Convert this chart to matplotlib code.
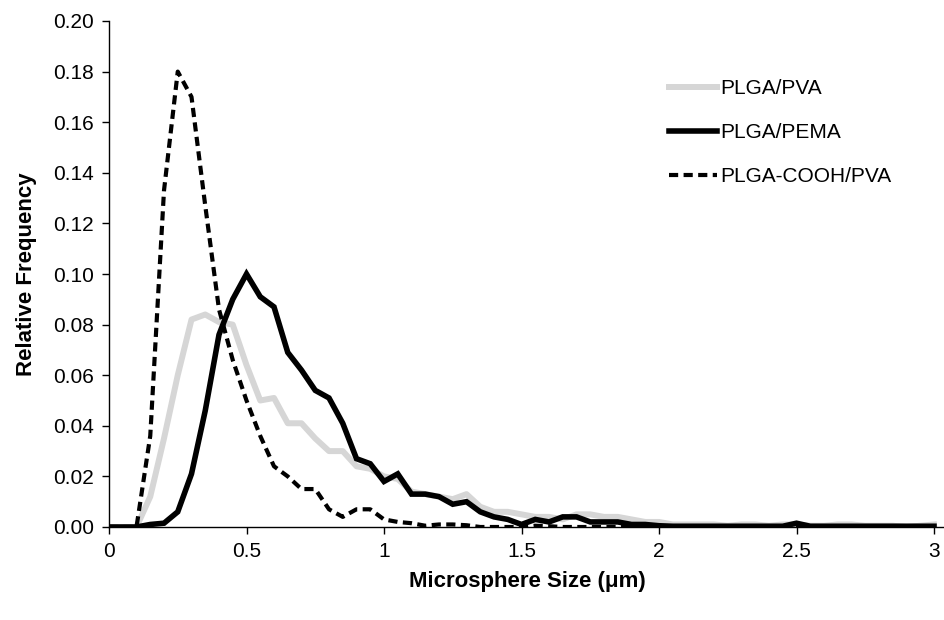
import numpy as np
import matplotlib
matplotlib.use("Agg")
import matplotlib.pyplot as plt
import matplotlib.ticker as mtick

# microsphere size bins (um)
sizes = np.linspace(0, 3, 61)

plga_pva = [0, 0, 0, 0.012, 0.035, 0.060, 0.082, 0.084, 0.081, 0.080,
            0.064, 0.050, 0.051, 0.041, 0.041, 0.035, 0.030, 0.030, 0.024, 0.023,
            0.020, 0.019, 0.014, 0.013, 0.012, 0.011, 0.013, 0.008, 0.006, 0.006,
            0.005, 0.004, 0.004, 0.003, 0.005, 0.005, 0.004, 0.004, 0.003, 0.002,
            0.002, 0.001, 0.001, 0.001, 0.001, 0.0005, 0.001, 0.001, 0.0005, 0.001,
            0.001, 0.0005, 0.0005, 0.001, 0.001, 0.0005, 0.0005, 0.0005, 0.0, 0.0005,
            0.001]

plga_pema = [0, 0, 0, 0.001, 0.0015, 0.006, 0.021, 0.046, 0.076, 0.090,
             0.100, 0.091, 0.087, 0.069, 0.062, 0.054, 0.051, 0.041, 0.027, 0.025,
             0.018, 0.021, 0.013, 0.013, 0.012, 0.009, 0.010, 0.006, 0.004, 0.003,
             0.001, 0.003, 0.002, 0.004, 0.004, 0.002, 0.002, 0.002, 0.001, 0.001,
             0.0005, 0.0003, 0.0003, 0.0003, 0.0003, 0.0003, 0.0003, 0.0003, 0.0003, 0.0003,
             0.0015, 0.0003, 0.0003, 0.0003, 0.0003, 0.0003, 0.0003, 0.0003, 0.0003, 0.0003,
             0.0003]

plga_cooh_pva = [0, 0, 0, 0.036, 0.133, 0.180, 0.170, 0.127, 0.086, 0.066,
                 0.050, 0.036, 0.024, 0.020, 0.015, 0.015, 0.007, 0.004, 0.007, 0.007,
                 0.003, 0.002, 0.0015, 0.0005, 0.001, 0.001, 0.0007, 0, 0, 0,
                 0, 0.0005, 0.0003, 0, 0, 0, 0, 0, 0, 0,
                 0, 0, 0, 0, 0, 0, 0, 0, 0, 0,
                 0, 0, 0, 0, 0, 0, 0, 0, 0, 0,
                 0]


def main():
    plt.rcParams['font.family'] = ['Liberation Sans', 'DejaVu Sans']

    fig = plt.figure(figsize=(9.45, 6.2), dpi=100)
    ax = fig.add_axes([109 / 945, 93 / 620, 1 - 109 / 945, 506 / 620])

    ax.plot(sizes, plga_pva, color='#d6d6d6', lw=4.3, label='PLGA/PVA',
            solid_joinstyle='round')
    ax.plot(sizes, plga_pema, color='black', lw=4.0, label='PLGA/PEMA',
            solid_joinstyle='miter')
    ax.plot(sizes, plga_cooh_pva, color='black', lw=3.0, ls=(0, (2.2, 1.3)),
            dash_capstyle='butt', label='PLGA-COOH/PVA')

    ax.set_xlim(0, 836 / 275)
    ax.set_ylim(0, 0.20)
    ax.set_xticks([0, 0.5, 1, 1.5, 2, 2.5, 3])
    ax.set_xticklabels(['0', '0.5', '1', '1.5', '2', '2.5', '3'])
    ax.set_yticks(np.arange(0, 0.201, 0.02))
    ax.yaxis.set_major_formatter(mtick.FormatStrFormatter('%.2f'))
    ax.tick_params(direction='out', length=5, width=1, labelsize=15, pad=6)

    ax.spines['top'].set_visible(False)
    ax.spines['right'].set_visible(False)
    ax.spines['left'].set_linewidth(1)
    ax.spines['bottom'].set_linewidth(1)

    ax.set_xlabel('Microsphere Size (\u03bcm)', fontsize=16, fontweight='bold', labelpad=7)
    ax.set_ylabel('Relative Frequency', fontsize=16, fontweight='bold', labelpad=11)

    ax.legend(loc='upper left', bbox_to_anchor=(669 / 945, 1 - 79 / 620),
              bbox_transform=fig.transFigure, frameon=False, fontsize=15,
              handlelength=2.3, handletextpad=0.15, labelspacing=1.2,
              borderpad=0, borderaxespad=0)

    fig.savefig('out.png', dpi=100)


if __name__ == '__main__':
    main()
